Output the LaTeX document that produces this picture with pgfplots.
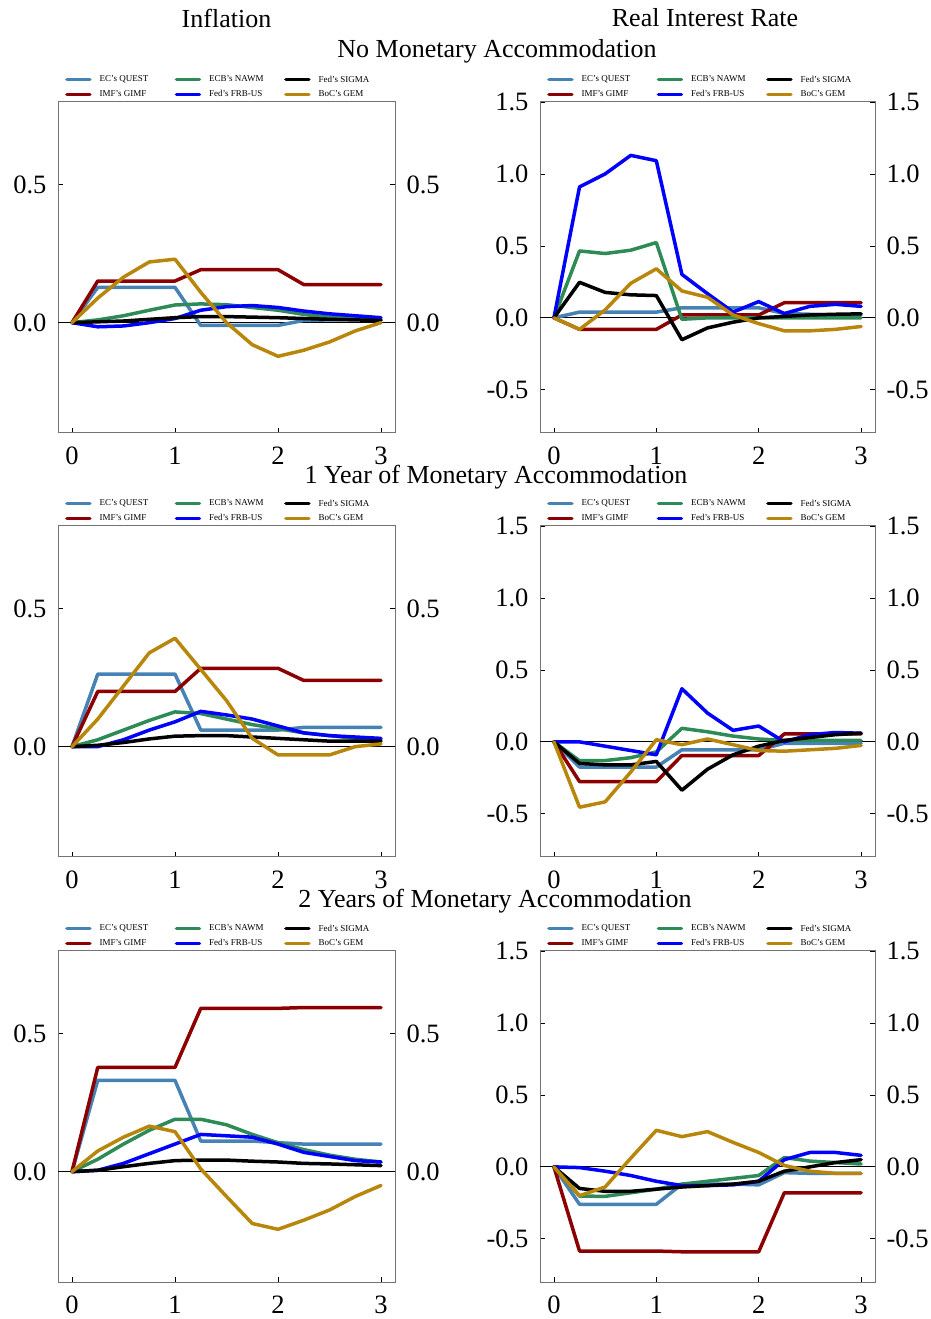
\documentclass[border=0pt]{standalone}
\usepackage{pgfplots}
\pgfplotsset{compat=1.18}
\usepackage{pgfplotstable}
\usepackage{fontspec}
\setmainfont{Liberation Serif}

\definecolor{questc}{RGB}{70,130,180}
\definecolor{gimfc}{RGB}{139,0,0}
\definecolor{nawmc}{RGB}{46,139,87}
\definecolor{frbc}{RGB}{0,0,255}
\definecolor{sigmac}{RGB}{0,0,0}
\definecolor{gemc}{RGB}{184,134,11}

% Row 1: No Monetary Accommodation
\pgfplotstableread{
x q g n f s b
0 0 0 0 0 0 0
0.25 0.128 0.151 0.010 -0.015 0.003 0.089
0.5 0.128 0.151 0.025 -0.012 0.006 0.165
0.75 0.128 0.151 0.045 0.000 0.012 0.220
1 0.128 0.151 0.064 0.015 0.018 0.230
1.25 -0.010 0.192 0.068 0.045 0.022 0.110
1.5 -0.010 0.192 0.065 0.058 0.022 0.000
1.75 -0.010 0.192 0.055 0.062 0.020 -0.080
2 -0.010 0.192 0.045 0.055 0.018 -0.122
2.25 0.008 0.138 0.030 0.042 0.015 -0.100
2.5 0.010 0.138 0.020 0.032 0.012 -0.070
2.75 0.012 0.138 0.015 0.025 0.010 -0.030
3 0.012 0.138 0.010 0.018 0.008 0.000
}\tabIa
\pgfplotstableread{
x q g n f s b
0 0 0 0 0 0 0
0.25 0.040 -0.080 0.465 0.910 0.247 -0.080
0.5 0.040 -0.080 0.447 1.000 0.177 0.055
0.75 0.040 -0.080 0.470 1.129 0.160 0.240
1 0.040 -0.080 0.523 1.092 0.155 0.341
1.25 0.070 0.020 -0.010 0.302 -0.152 0.187
1.5 0.070 0.020 0.000 0.168 -0.070 0.143
1.75 0.070 0.020 0.000 0.040 -0.030 0.020
2 0.070 0.020 0.000 0.113 0.000 -0.040
2.25 0.030 0.105 0.000 0.030 0.010 -0.090
2.5 0.025 0.105 0.000 0.080 0.020 -0.090
2.75 0.020 0.105 0.000 0.094 0.025 -0.080
3 0.020 0.105 0.000 0.080 0.028 -0.060
}\tabRa
% Row 2: 1 Year of Monetary Accommodation
\pgfplotstableread{
x q g n f s b
0 0 0 0 0 0 0
0.25 0.263 0.200 0.025 0.000 0.005 0.100
0.5 0.263 0.200 0.060 0.025 0.015 0.220
0.75 0.263 0.200 0.095 0.060 0.028 0.340
1 0.263 0.200 0.126 0.090 0.038 0.393
1.25 0.060 0.284 0.120 0.128 0.040 0.280
1.5 0.060 0.284 0.100 0.115 0.040 0.167
1.75 0.060 0.284 0.080 0.100 0.035 0.030
2 0.060 0.284 0.065 0.075 0.030 -0.030
2.25 0.070 0.240 0.050 0.050 0.025 -0.030
2.5 0.070 0.240 0.040 0.040 0.020 -0.030
2.75 0.070 0.240 0.030 0.035 0.020 0.000
3 0.070 0.240 0.025 0.030 0.020 0.010
}\tabIb
\pgfplotstableread{
x q g n f s b
0 0 0 0 0 0 0
0.25 -0.175 -0.276 -0.131 0.000 -0.150 -0.454
0.5 -0.175 -0.276 -0.130 -0.030 -0.160 -0.417
0.75 -0.175 -0.276 -0.110 -0.060 -0.160 -0.210
1 -0.175 -0.276 -0.070 -0.090 -0.136 0.015
1.25 -0.055 -0.095 0.094 0.369 -0.336 -0.020
1.5 -0.055 -0.095 0.070 0.200 -0.190 0.020
1.75 -0.055 -0.095 0.040 0.080 -0.090 -0.020
2 -0.055 -0.095 0.020 0.110 -0.030 -0.060
2.25 -0.010 0.055 0.010 0.000 0.010 -0.065
2.5 -0.010 0.055 0.010 0.050 0.030 -0.055
2.75 -0.010 0.055 0.010 0.065 0.050 -0.045
3 -0.010 0.055 0.010 0.060 0.060 -0.025
}\tabRb
% Row 3: 2 Years of Monetary Accommodation
\pgfplotstableread{
x q g n f s b
0 0 0 0 0 0 0
0.25 0.331 0.378 0.045 0.005 0.005 0.075
0.5 0.331 0.378 0.100 0.030 0.018 0.125
0.75 0.331 0.378 0.150 0.065 0.030 0.165
1 0.331 0.378 0.190 0.100 0.040 0.145
1.25 0.111 0.592 0.190 0.135 0.042 0.010
1.5 0.111 0.592 0.170 0.130 0.042 -0.090
1.75 0.111 0.592 0.135 0.125 0.038 -0.188
2 0.105 0.592 0.105 0.100 0.035 -0.209
2.25 0.100 0.595 0.080 0.070 0.030 -0.176
2.5 0.100 0.595 0.060 0.055 0.028 -0.139
2.75 0.100 0.595 0.045 0.040 0.025 -0.090
3 0.100 0.595 0.035 0.035 0.022 -0.050
}\tabIc
\pgfplotstableread{
x q g n f s b
0 0 0 0 0 0 0
0.25 -0.260 -0.585 -0.203 -0.005 -0.150 -0.200
0.5 -0.260 -0.585 -0.205 -0.030 -0.170 -0.140
0.75 -0.260 -0.585 -0.180 -0.060 -0.170 0.060
1 -0.260 -0.585 -0.155 -0.100 -0.155 0.254
1.25 -0.120 -0.590 -0.120 -0.130 -0.140 0.210
1.5 -0.120 -0.590 -0.100 -0.130 -0.130 0.245
1.75 -0.120 -0.590 -0.080 -0.125 -0.120 0.170
2 -0.125 -0.590 -0.060 -0.100 -0.100 0.100
2.25 -0.040 -0.180 0.065 0.050 -0.030 0.010
2.5 -0.045 -0.180 0.040 0.100 0.000 -0.030
2.75 -0.045 -0.180 0.030 0.100 0.030 -0.045
3 -0.045 -0.180 0.020 0.080 0.050 -0.045
}\tabRc

\pgfplotsset{legend image code/.code={\draw[#1] (0pt,0pt) -- (23pt,0pt);}}
\pgfplotsset{
  ser/.style={line width=3.5pt, line cap=round, line join=round},
  quest/.style={ser, color=questc},
  gimf/.style={ser, color=gimfc},
  nawm/.style={ser, color=nawmc},
  frb/.style={ser, color=frbc},
  sigma/.style={ser, color=sigmac},
  gem/.style={ser, color=gemc},
  panel/.style={
    scale only axis, anchor=south west,
    xmin=-0.136, xmax=3.136,
    xtick={0,1,2,3}, xticklabels={0,1,2,3},
    tick align=inside, xtick pos=left, ytick pos=both, yticklabel pos=left,
    major tick length=5pt,
    tick style={black, line width=0.8pt},
    axis line style={black!55, line width=1pt},
    tick label style={font=\fontsize{26.5}{30}\selectfont},
    xticklabel style={yshift=-10pt},
    yticklabel style={xshift=-8pt},
    legend columns=3,
    legend cell align=left,
    legend style={draw=none, fill=none, at={(0,1)}, anchor=south west,
      xshift=7pt, yshift=1.5pt, font=\fontsize{9}{10}\selectfont,
      inner xsep=0pt, inner ysep=0pt, row sep=3pt,
      /tikz/every odd column/.append style={column sep=6pt}},
  },
  infl/.style={width=337pt, height=331pt, ymin=-0.4, ymax=0.8,
    ytick={0,0.5}, yticklabels={0.0,0.5}},
  rir/.style={width=335pt, height=331pt, ymin=-0.8, ymax=1.5,
    ytick={-0.5,0,0.5,1,1.5}, yticklabels={-0.5,0.0,0.5,1.0,1.5}},
  rlab/.style={hide x axis, axis y line*=right, ytick pos=right, yticklabel pos=right,
    major tick length=0pt, y axis line style={draw=none},
    yticklabel style={xshift=16pt}},
}

\newcommand{\panel}[4]{%
\begin{axis}[panel,#3,at={(#1,#2)}]
\addlegendimage{quest}\addlegendentry{\makebox[73pt][l]{EC's QUEST}}
\addlegendimage{nawm}\addlegendentry{\makebox[73pt][l]{ECB's NAWM}}
\addlegendimage{sigma}\addlegendentry{\makebox[73pt][l]{Fed's SIGMA}}
\addlegendimage{gimf}\addlegendentry{\makebox[73pt][l]{IMF's GIMF}}
\addlegendimage{frb}\addlegendentry{\makebox[73pt][l]{Fed's FRB-US}}
\addlegendimage{gem}\addlegendentry{\makebox[73pt][l]{BoC's GEM}}
\addplot[black, line width=0.8pt, forget plot] coordinates {(-0.2,0) (3.2,0)};
\addplot[quest, forget plot] table[x=x,y=q]{#4};
\addplot[gimf, forget plot] table[x=x,y=g]{#4};
\addplot[nawm, forget plot] table[x=x,y=n]{#4};
\addplot[frb, forget plot] table[x=x,y=f]{#4};
\addplot[sigma, forget plot] table[x=x,y=s]{#4};
\addplot[gem, forget plot] table[x=x,y=b]{#4};
\end{axis}
\begin{axis}[panel,#3,rlab,at={(#1,#2)}]
\end{axis}}

\begin{document}
\begin{tikzpicture}
\useasboundingbox (0pt,0pt) rectangle (931pt,1319pt);
\tikzset{ttl/.style={font=\fontsize{26}{30}\selectfont, inner sep=0pt}}
\node[ttl] at (226.5pt,1301pt) {Inflation};
\node[ttl] at (705pt,1301pt) {Real Interest Rate};
\node[ttl] at (497pt,1268pt) {No Monetary Accommodation};
\node[ttl] at (496pt,842pt) {1 Year of Monetary Accommodation};
\node[ttl] at (495pt,418pt) {2 Years of Monetary Accommodation};

\panel{58pt}{886pt}{infl}{\tabIa}
\panel{540pt}{886pt}{rir}{\tabRa}
\panel{58pt}{462pt}{infl}{\tabIb}
\panel{540pt}{462pt}{rir}{\tabRb}
\panel{58pt}{37pt}{infl}{\tabIc}
\panel{540pt}{37pt}{rir}{\tabRc}
\end{tikzpicture}
\end{document}
